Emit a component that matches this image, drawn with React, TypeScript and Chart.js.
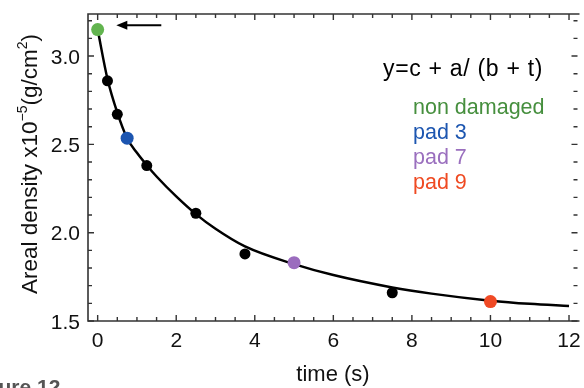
import React, { useEffect, useRef } from "react";
import { Chart, registerables } from "chart.js";

Chart.register(...registerables);

// ---- data ----
const blackTimes = [0.25, 0.5, 1.25, 2.5, 3.75, 7.5];
const blackDensity = [2.86, 2.67, 2.38, 2.11, 1.88, 1.66];

const sampleNames = ["non damaged", "pad 3", "pad 7", "pad 9"];
const sampleTimes = [0, 0.75, 5, 10];
const sampleDensity = [3.15, 2.535, 1.83, 1.61];
const sampleColors = ["#62b44f", "#1c55b0", "#9b6cbe", "#f04a25"];
const sampleTextColors = ["#468f3e", "#1d56b0", "#9a6fbe", "#ef4a22"];

const fitTimes = [0, 0.25, 0.5, 0.75, 1, 1.25, 1.5, 2, 2.5, 3, 3.75, 5, 6, 7.5, 8.5, 10, 11, 12];
const fitDensity = [3.15, 2.87, 2.68, 2.535, 2.452, 2.382, 2.318, 2.205, 2.105, 2.022, 1.922, 1.822, 1.76, 1.69, 1.655, 1.615, 1.597, 1.585];

const xTickValues = [0, 2, 4, 6, 8, 10, 12];
const xTickLabels = ["0", "2", "4", "6", "8", "10", "12"];
const yTickValues = [1.5, 2.0, 2.5, 3.0];
const yTickLabels = ["1.5", "2.0", "2.5", "3.0"];

const equationText = "y=c + a/ (b + t)";
const xTitle = "time (s)";
const yTitleParts = [
  { text: "Areal density x10", sup: false },
  { text: "\u22125", sup: true },
  { text: "(g/cm", sup: false },
  { text: "2", sup: true },
  { text: ")", sup: false },
];
const captionText = "Figure 12";

// arrow pointing at the first sample (data coordinates: tail, head)
const arrowTail = [1.62, 3.175];
const arrowHead = [0.475, 3.175];

const X_MIN = -0.246;
const X_MAX = 12.216;
const Y_MIN = 1.5;
const Y_MAX = 3.238;

const FONT = '"Liberation Sans", Arial, Helvetica, sans-serif';

const decorPlugin = {
  id: "decor",
  afterDraw(chart: any) {
    const ctx = chart.ctx as CanvasRenderingContext2D;
    const { left, right, top, bottom } = chart.chartArea;
    const xs = chart.scales.x;
    const ys = chart.scales.y;
    ctx.save();

    // frame
    ctx.strokeStyle = "#333";
    ctx.lineWidth = 1.6;
    ctx.beginPath();
    ctx.moveTo(right + 2, top);
    ctx.lineTo(left, top);
    ctx.lineTo(left, bottom);
    ctx.lineTo(right + 2, bottom);
    ctx.stroke();

    // ticks (inward)
    ctx.lineWidth = 1.4;
    ctx.beginPath();
    for (let i = 0; i <= 24; i++) {
      const v = i * 0.5;
      const px = xs.getPixelForValue(v);
      const len = i % 4 === 0 ? 6 : 4;
      ctx.moveTo(px, bottom);
      ctx.lineTo(px, bottom - len);
      ctx.moveTo(px, top);
      ctx.lineTo(px, top + len);
    }
    for (let i = 15; i <= 32; i++) {
      const v = i / 10;
      const py = ys.getPixelForValue(v);
      const len = i % 5 === 0 ? 6 : 4;
      ctx.moveTo(left, py);
      ctx.lineTo(left + len, py);
      ctx.moveTo(right, py);
      ctx.lineTo(right - len, py);
    }
    ctx.stroke();

    // tick labels
    ctx.fillStyle = "#111";
    ctx.font = `21px ${FONT}`;
    ctx.textBaseline = "alphabetic";
    ctx.textAlign = "center";
    xTickValues.forEach((v, i) => {
      ctx.fillText(xTickLabels[i], xs.getPixelForValue(v), bottom + 26);
    });
    ctx.textAlign = "right";
    yTickValues.forEach((v, i) => {
      ctx.fillText(yTickLabels[i], left - 8, ys.getPixelForValue(v) + 7.5);
    });

    // x title
    ctx.textAlign = "center";
    ctx.font = `22px ${FONT}`;
    ctx.fillText(xTitle, 333, 381);

    // y title (rotated, with superscripts)
    const ySize = 22.5;
    const supSize = ySize * 0.62;
    ctx.save();
    ctx.translate(37, 164);
    ctx.rotate(-Math.PI / 2);
    ctx.textAlign = "left";
    let total = 0;
    yTitleParts.forEach((p) => {
      ctx.font = `${p.sup ? supSize : ySize}px ${FONT}`;
      total += ctx.measureText(p.text).width;
    });
    let cx = -total / 2;
    yTitleParts.forEach((p) => {
      ctx.font = `${p.sup ? supSize : ySize}px ${FONT}`;
      ctx.fillText(p.text, cx, p.sup ? -ySize * 0.45 : 0);
      cx += ctx.measureText(p.text).width;
    });
    ctx.restore();

    // equation
    ctx.textAlign = "left";
    ctx.fillStyle = "#000";
    ctx.font = `23px ${FONT}`;
    (ctx as any).letterSpacing = "0.7px";
    ctx.fillText(equationText, 383, 76);
    (ctx as any).letterSpacing = "0px";

    // legend text
    ctx.font = `21.5px ${FONT}`;
    sampleNames.forEach((name, i) => {
      ctx.fillStyle = sampleTextColors[i];
      ctx.fillText(name, 413, 114 + i * 25);
    });

    // arrow
    const ax0 = xs.getPixelForValue(arrowTail[0]);
    const ay0 = ys.getPixelForValue(arrowTail[1]);
    const ax1 = xs.getPixelForValue(arrowHead[0]);
    const ay1 = ys.getPixelForValue(arrowHead[1]);
    ctx.strokeStyle = "#000";
    ctx.fillStyle = "#000";
    ctx.lineWidth = 2;
    ctx.beginPath();
    ctx.moveTo(ax0, ay0);
    ctx.lineTo(ax1 + 6, ay1);
    ctx.stroke();
    ctx.beginPath();
    ctx.moveTo(ax1, ay1);
    ctx.lineTo(ax1 + 11, ay1 - 4.5);
    ctx.lineTo(ax1 + 11, ay1 + 4.5);
    ctx.closePath();
    ctx.fill();

    // cut-off caption
    ctx.fillStyle = "#555";
    ctx.font = `bold 21px ${FONT}`;
    ctx.fillText(captionText, -33, 394);

    ctx.restore();
  },
};

export default function App() {
  const canvasRef = useRef<HTMLCanvasElement | null>(null);

  useEffect(() => {
    document.body.style.margin = "0";
    const canvas = canvasRef.current;
    if (!canvas) return;

    const samplePoints = sampleTimes.map((t, i) => ({ x: t, y: sampleDensity[i] }));
    const blackPoints = blackTimes.map((t, i) => ({ x: t, y: blackDensity[i] }));
    const fitPoints = fitTimes.map((t, i) => ({ x: t, y: fitDensity[i] }));

    const chart = new Chart(canvas, {
      type: "scatter",
      data: {
        datasets: [
          {
            label: "samples",
            data: samplePoints,
            backgroundColor: sampleColors,
            borderColor: sampleColors,
            pointRadius: 6.5,
            borderWidth: 0,
            order: 0,
          },
          {
            label: "measured",
            data: blackPoints,
            backgroundColor: "#000",
            borderColor: "#000",
            pointRadius: 5.5,
            borderWidth: 0,
            order: 1,
          },
          {
            label: "fit",
            data: fitPoints,
            showLine: true,
            borderColor: "#000",
            borderWidth: 2.5,
            pointRadius: 0,
            cubicInterpolationMode: "monotone",
            fill: false,
            order: 2,
          } as any,
        ],
      },
      options: {
        animation: false,
        responsive: false,
        devicePixelRatio: 1,
        layout: { padding: { left: 88, top: 14, right: 0, bottom: 67 } },
        scales: {
          x: { type: "linear", min: X_MIN, max: X_MAX, display: false },
          y: { type: "linear", min: Y_MIN, max: Y_MAX, display: false },
        },
        plugins: {
          legend: { display: false },
          tooltip: { enabled: false },
        },
      },
      plugins: [decorPlugin],
    });

    return () => chart.destroy();
  }, []);

  return (
    <div style={{ width: 584, height: 388, background: "#fff" }}>
      <canvas ref={canvasRef} width={584} height={388} style={{ display: "block" }} />
    </div>
  );
}
